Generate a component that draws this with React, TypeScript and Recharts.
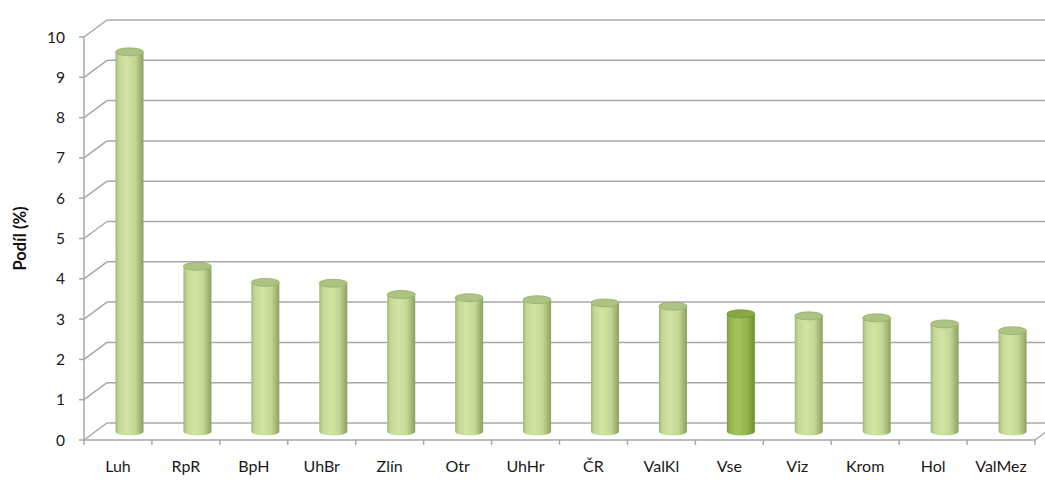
import React from 'react';
import { BarChart, Bar, XAxis, YAxis, CartesianGrid, Cell } from 'recharts';

const categories = ['Luh', 'RpR', 'BpH', 'UhBr', 'Zlín', 'Otr', 'UhHr', 'ČR', 'ValKl', 'Vse', 'Viz', 'Krom', 'Hol', 'ValMez'];
const values = [9.42, 4.1, 3.7, 3.68, 3.4, 3.32, 3.27, 3.19, 3.11, 2.92, 2.87, 2.82, 2.67, 2.5];
const highlighted = ['Vse'];
const yTicks = [0, 1, 2, 3, 4, 5, 6, 7, 8, 9, 10];

const data = categories.map((c, i) => ({ name: c, value: values[i] }));

const W = 1045;
const H = 480;
const DEPTH_X = 23;
const DEPTH_Y = 17;
const GRID = '#a8a8a8';
const FONT = 'Lato, "Open Sans", sans-serif';
const TICK_SIZE = 5;
const TICK_MARGIN = 16;

const palettes = {
  normal: { edgeL: '#a0b674', light: '#d3e4a6', mid: '#c3d895', edgeR: '#8ba15f', top: '#adc383', topRim: '#97ae6a' },
  hi: { edgeL: '#7e9f3d', light: '#a3c45c', mid: '#93b64c', edgeR: '#6d8f32', top: '#86a845', topRim: '#739436' },
};

const Cylinder = (props: any) => {
  const { x, y, width, height, index, payload } = props;
  if (x == null || y == null) return null;
  const isHi = highlighted.includes(payload?.name);
  const p = isHi ? palettes.hi : palettes.normal;
  const cx = x + width / 2 + DEPTH_X / 2;
  const rx = width / 2;
  const ry = 4;
  const top = y - DEPTH_Y / 2;
  const bottom = y + height - DEPTH_Y / 2;
  const gid = `cylgrad-${index}`;
  return (
    <g>
      <defs>
        <linearGradient id={gid} x1="0" y1="0" x2="1" y2="0">
          <stop offset="0%" stopColor={p.edgeL} />
          <stop offset="12%" stopColor={p.mid} />
          <stop offset="40%" stopColor={p.light} />
          <stop offset="70%" stopColor={p.mid} />
          <stop offset="100%" stopColor={p.edgeR} />
        </linearGradient>
      </defs>
      <path
        d={`M${cx - rx},${top} L${cx - rx},${bottom} A${rx},${ry} 0 0 0 ${cx + rx},${bottom} L${cx + rx},${top} Z`}
        fill={`url(#${gid})`}
      />
      <ellipse cx={cx} cy={top} rx={rx} ry={ry} fill={p.top} stroke={p.topRim} strokeWidth={0.8} />
    </g>
  );
};

const GridLine = (props: any) => {
  const { x1, y1, x2, y, height } = props;
  const isBottom = y != null && height != null && Math.abs(y1 - (y + height)) < 1;
  return (
    <g key={props.key}>
      <line x1={x1} y1={y1} x2={x1 + DEPTH_X} y2={y1 - DEPTH_Y} stroke={GRID} strokeWidth={1.5} />
      <line x1={x1 + DEPTH_X} y1={y1 - DEPTH_Y} x2={x2 + DEPTH_X} y2={y1 - DEPTH_Y} stroke={GRID} strokeWidth={1.5} />
      {isBottom && (
        <line x1={x2} y1={y1} x2={x2 + DEPTH_X} y2={y1 - DEPTH_Y} stroke={GRID} strokeWidth={1.5} />
      )}
    </g>
  );
};

const XTick = (props: any) => {
  const { x, y, payload, index, visibleTicksCount, width } = props;
  const half =
    payload && typeof payload.offset === 'number' && payload.offset > 0
      ? payload.offset
      : width / (visibleTicksCount || categories.length) / 2;
  const axisY = y - TICK_SIZE - TICK_MARGIN;
  return (
    <g>
      <line x1={x - half} y1={axisY} x2={x - half} y2={axisY + TICK_SIZE} stroke={GRID} strokeWidth={1.5} />
      {index === categories.length - 1 && (
        <line x1={x + half} y1={axisY} x2={x + half} y2={axisY + TICK_SIZE} stroke={GRID} strokeWidth={1.5} />
      )}
      <text x={x} y={y} dy="0.71em" textAnchor="middle" fill="#1a1a1a" fontSize={16} fontFamily={FONT}>
        {payload.value}
      </text>
    </g>
  );
};

const YTitle = (props: any) => {
  const vb = props.viewBox || { x: 0, y: 0, width: 84, height: 400 };
  const cx = vb.x + 20;
  const cy = vb.y + vb.height / 2;
  return (
    <text
      x={cx}
      y={cy}
      transform={`rotate(-90, ${cx}, ${cy})`}
      textAnchor="middle"
      dominantBaseline="central"
      fontWeight="bold"
      fontSize={16.5}
      fill="#111"
      fontFamily={FONT}
    >
      Podíl (%)
    </text>
  );
};

export default function App() {
  return (
    <div style={{ position: 'absolute', left: 0, top: 0, width: W, height: H, background: '#fff' }}>
      <BarChart width={W} height={H} data={data} margin={{ top: 37, right: 10, bottom: 0, left: 0 }} barSize={28}>
        <CartesianGrid vertical={false} horizontal={(p: any) => <GridLine {...p} />} />
        <XAxis
          dataKey="name"
          height={40}
          interval={0}
          tickLine={false}
          tickSize={TICK_SIZE}
          tickMargin={TICK_MARGIN}
          axisLine={{ stroke: GRID, strokeWidth: 1.5 }}
          tick={(p: any) => <XTick {...p} />}
        />
        <YAxis
          width={84}
          domain={[0, 10]}
          ticks={yTicks}
          interval={0}
          tickSize={5}
          tickMargin={14}
          axisLine={{ stroke: GRID, strokeWidth: 1.5 }}
          tickLine={{ stroke: GRID, strokeWidth: 1.5 }}
          tick={{ fill: '#1a1a1a', fontSize: 15.5, fontFamily: FONT }}
          label={<YTitle />}
        />
        <Bar dataKey="value" isAnimationActive={false} shape={(p: any) => <Cylinder {...p} />}>
          {data.map((d, i) => (
            <Cell key={i} />
          ))}
        </Bar>
      </BarChart>
    </div>
  );
}
